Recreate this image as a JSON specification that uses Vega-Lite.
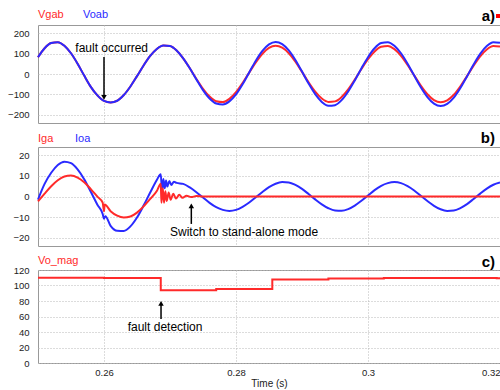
{
  "$schema": "https://vega.github.io/schema/vega-lite/v6.json",
  "padding": {"left": 7, "top": 8, "right": 0, "bottom": 0},
  "background": "white",
  "bounds": "flush",
  "spacing": 24,
  "config": {
    "font": "Liberation Sans",
    "view": {"stroke": "#999999", "strokeWidth": 1},
    "axis": {"domain": false, "ticks": false, "grid": true, "gridColor": "#b8b8b8", "gridDash": [1, 2], "gridWidth": 1, "labelFont": "Liberation Sans", "labelFontSize": 9.5, "labelColor": "#222222", "labelPadding": 9, "labelOverlap": false},
    "line": {"strokeWidth": 2}
  },
  "datasets": {
    "one": [{}],
    "voab": [
      {"t": 0.250, "v": 82}, {"t": 0.251, "v": 126}, {"t": 0.252, "v": 151.5}, {"t": 0.253, "v": 156}, {"t": 0.254, "v": 138.5},
      {"t": 0.255, "v": 101.6}, {"t": 0.256, "v": 50.4}, {"t": 0.257, "v": -7.9}, {"t": 0.258, "v": -62.9}, {"t": 0.259, "v": -105},
      {"t": 0.260, "v": -132}, {"t": 0.261, "v": -139}, {"t": 0.262, "v": -131}, {"t": 0.263, "v": -103}, {"t": 0.264, "v": -61},
      {"t": 0.265, "v": -10.5}, {"t": 0.266, "v": 42}, {"t": 0.267, "v": 88.5}, {"t": 0.268, "v": 122.7}, {"t": 0.269, "v": 139.6},
      {"t": 0.270, "v": 137.1}, {"t": 0.271, "v": 115.1}, {"t": 0.272, "v": 77}, {"t": 0.273, "v": 28.2}, {"t": 0.274, "v": -26.3},
      {"t": 0.275, "v": -78.8}, {"t": 0.276, "v": -120.3}, {"t": 0.277, "v": -144.8}, {"t": 0.278, "v": -149.1}, {"t": 0.279, "v": -134.1},
      {"t": 0.280, "v": -100.3}, {"t": 0.281, "v": -50.4}, {"t": 0.282, "v": 7.9}, {"t": 0.283, "v": 65}, {"t": 0.284, "v": 113},
      {"t": 0.285, "v": 145.2}, {"t": 0.286, "v": 157}, {"t": 0.287, "v": 146.6}, {"t": 0.288, "v": 115.9}, {"t": 0.289, "v": 68.6},
      {"t": 0.290, "v": 11.8}, {"t": 0.291, "v": -46.6}, {"t": 0.292, "v": -98.6}, {"t": 0.293, "v": -136.6}, {"t": 0.294, "v": -155.4},
      {"t": 0.295, "v": -152.6}, {"t": 0.296, "v": -128.1}, {"t": 0.297, "v": -85.7}, {"t": 0.298, "v": -31.4}, {"t": 0.299, "v": 27.5},
      {"t": 0.300, "v": 82.4}, {"t": 0.301, "v": 125.9}, {"t": 0.302, "v": 151.5}, {"t": 0.303, "v": 156.1}, {"t": 0.304, "v": 138.5},
      {"t": 0.305, "v": 101.6}, {"t": 0.306, "v": 50.4}, {"t": 0.307, "v": -7.9}, {"t": 0.308, "v": -65}, {"t": 0.309, "v": -113},
      {"t": 0.310, "v": -145.2}, {"t": 0.311, "v": -157}, {"t": 0.312, "v": -146.6}, {"t": 0.313, "v": -115.9}, {"t": 0.314, "v": -68.6},
      {"t": 0.315, "v": -11.8}, {"t": 0.316, "v": 46.6}, {"t": 0.317, "v": 98.6}, {"t": 0.318, "v": 136.6}, {"t": 0.319, "v": 155.4},
      {"t": 0.320, "v": 152.6}
    ],
    "vgab": [
      {"t": 0.250, "v": 82}, {"t": 0.251, "v": 126}, {"t": 0.252, "v": 151.5}, {"t": 0.253, "v": 156}, {"t": 0.254, "v": 138.5},
      {"t": 0.255, "v": 101.6}, {"t": 0.256, "v": 50.4}, {"t": 0.257, "v": -7.9}, {"t": 0.258, "v": -62.9}, {"t": 0.259, "v": -105},
      {"t": 0.260, "v": -132}, {"t": 0.261, "v": -139}, {"t": 0.262, "v": -131}, {"t": 0.263, "v": -103}, {"t": 0.264, "v": -61},
      {"t": 0.265, "v": -10.5}, {"t": 0.266, "v": 42}, {"t": 0.267, "v": 88.5}, {"t": 0.268, "v": 122.7}, {"t": 0.269, "v": 139.6},
      {"t": 0.270, "v": 137.1}, {"t": 0.271, "v": 115.1}, {"t": 0.272, "v": 77}, {"t": 0.273, "v": 28.2}, {"t": 0.274, "v": -24.2},
      {"t": 0.275, "v": -72.5}, {"t": 0.276, "v": -110.7}, {"t": 0.277, "v": -133.2}, {"t": 0.278, "v": -137.2}, {"t": 0.279, "v": -121.7},
      {"t": 0.280, "v": -89.3}, {"t": 0.281, "v": -44.3}, {"t": 0.282, "v": 6.9}, {"t": 0.283, "v": 57.1}, {"t": 0.284, "v": 99.4},
      {"t": 0.285, "v": 127.7}, {"t": 0.286, "v": 138}, {"t": 0.287, "v": 128.9}, {"t": 0.288, "v": 101.8}, {"t": 0.289, "v": 60.3},
      {"t": 0.290, "v": 10.4}, {"t": 0.291, "v": -41}, {"t": 0.292, "v": -86.7}, {"t": 0.293, "v": -120.1}, {"t": 0.294, "v": -136.6},
      {"t": 0.295, "v": -134.1}, {"t": 0.296, "v": -112.6}, {"t": 0.297, "v": -75.3}, {"t": 0.298, "v": -27.6}, {"t": 0.299, "v": 24.2},
      {"t": 0.300, "v": 72.5}, {"t": 0.301, "v": 110.7}, {"t": 0.302, "v": 133.2}, {"t": 0.303, "v": 137.2}, {"t": 0.304, "v": 121.7},
      {"t": 0.305, "v": 89.3}, {"t": 0.306, "v": 44.3}, {"t": 0.307, "v": -6.9}, {"t": 0.308, "v": -57.1}, {"t": 0.309, "v": -99.4},
      {"t": 0.310, "v": -127.7}, {"t": 0.311, "v": -138}, {"t": 0.312, "v": -128.9}, {"t": 0.313, "v": -101.8}, {"t": 0.314, "v": -60.3},
      {"t": 0.315, "v": -10.4}, {"t": 0.316, "v": 41}, {"t": 0.317, "v": 86.7}, {"t": 0.318, "v": 120.1}, {"t": 0.319, "v": 136.6},
      {"t": 0.320, "v": 134.1}
    ],
    "ioa": [
      {"t": 0.250, "v": -1.5}, {"t": 0.251, "v": 6.1}, {"t": 0.252, "v": 11.5}, {"t": 0.253, "v": 15.3}, {"t": 0.254, "v": 16.9},
      {"t": 0.255, "v": 16.2}, {"t": 0.256, "v": 13.2}, {"t": 0.257, "v": 8.4}, {"t": 0.258, "v": 2.3}, {"t": 0.259, "v": -4.0},
      {"t": 0.2598, "v": -8.5}, {"t": 0.2600, "v": -10.8}, {"t": 0.2602, "v": -9.6}, {"t": 0.261, "v": -14.2}, {"t": 0.262, "v": -16.6},
      {"t": 0.263, "v": -16.7}, {"t": 0.264, "v": -14.5}, {"t": 0.265, "v": -10.2}, {"t": 0.266, "v": -4.4}, {"t": 0.267, "v": 1.9},
      {"t": 0.268, "v": 8.0}, {"t": 0.2686, "v": 10.8}, {"t": 0.2688, "v": 2.5}, {"t": 0.2690, "v": 8.5}, {"t": 0.2692, "v": 4},
      {"t": 0.2694, "v": 7.8}, {"t": 0.2696, "v": 4.8}, {"t": 0.2699, "v": 7.5}, {"t": 0.2702, "v": 5.6}, {"t": 0.2706, "v": 7.2},
      {"t": 0.271, "v": 6.6}, {"t": 0.272, "v": 6.1}, {"t": 0.273, "v": 4.4}, {"t": 0.274, "v": 2.1}, {"t": 0.275, "v": -0.5},
      {"t": 0.276, "v": -3.1}, {"t": 0.277, "v": -5.2}, {"t": 0.278, "v": -6.5}, {"t": 0.279, "v": -7}, {"t": 0.280, "v": -6.5},
      {"t": 0.281, "v": -5.0}, {"t": 0.282, "v": -2.9}, {"t": 0.283, "v": -0.35}, {"t": 0.284, "v": 2.2}, {"t": 0.285, "v": 4.5},
      {"t": 0.286, "v": 6.2}, {"t": 0.287, "v": 7.0}, {"t": 0.288, "v": 6.8}, {"t": 0.289, "v": 5.6}, {"t": 0.290, "v": 3.7},
      {"t": 0.291, "v": 1.2}, {"t": 0.292, "v": -1.4}, {"t": 0.293, "v": -3.8}, {"t": 0.294, "v": -5.7}, {"t": 0.295, "v": -6.8},
      {"t": 0.296, "v": -6.9}, {"t": 0.297, "v": -6.1}, {"t": 0.298, "v": -4.4}, {"t": 0.299, "v": -2.1}, {"t": 0.300, "v": 0.5},
      {"t": 0.301, "v": 3.1}, {"t": 0.302, "v": 5.2}, {"t": 0.303, "v": 6.5}, {"t": 0.304, "v": 7}, {"t": 0.305, "v": 6.5},
      {"t": 0.306, "v": 5.0}, {"t": 0.307, "v": 2.9}, {"t": 0.308, "v": 0.35}, {"t": 0.309, "v": -2.2}, {"t": 0.310, "v": -4.5},
      {"t": 0.311, "v": -6.2}, {"t": 0.312, "v": -7.0}, {"t": 0.313, "v": -6.8}, {"t": 0.314, "v": -5.6}, {"t": 0.315, "v": -3.7},
      {"t": 0.316, "v": -1.2}, {"t": 0.317, "v": 1.4}, {"t": 0.318, "v": 3.8}, {"t": 0.319, "v": 5.7}, {"t": 0.320, "v": 6.8}
    ],
    "iga": [
      {"t": 0.250, "v": -2.4}, {"t": 0.251, "v": 1.4}, {"t": 0.252, "v": 5.0}, {"t": 0.253, "v": 7.9}, {"t": 0.254, "v": 9.7},
      {"t": 0.255, "v": 10.2}, {"t": 0.256, "v": 9.2}, {"t": 0.257, "v": 6.9}, {"t": 0.258, "v": 3.6}, {"t": 0.259, "v": -0.1},
      {"t": 0.2598, "v": -3.0}, {"t": 0.2600, "v": -7.2}, {"t": 0.2601, "v": -3.9}, {"t": 0.261, "v": -7.1}, {"t": 0.262, "v": -9.3},
      {"t": 0.263, "v": -10.2}, {"t": 0.264, "v": -9.7}, {"t": 0.265, "v": -7.8}, {"t": 0.266, "v": -4.8}, {"t": 0.267, "v": -1.2},
      {"t": 0.268, "v": 2.7}, {"t": 0.2686, "v": 6.2}, {"t": 0.2687, "v": -3}, {"t": 0.2689, "v": 4}, {"t": 0.2691, "v": -3},
      {"t": 0.2693, "v": 2.5}, {"t": 0.2695, "v": -2.2}, {"t": 0.2698, "v": 2}, {"t": 0.2701, "v": -1.6}, {"t": 0.2705, "v": 1.3},
      {"t": 0.2709, "v": -1}, {"t": 0.2714, "v": 0.8}, {"t": 0.2719, "v": -0.6}, {"t": 0.2725, "v": 0.4}, {"t": 0.2732, "v": -0.3},
      {"t": 0.274, "v": 0.2}, {"t": 0.275, "v": 0}, {"t": 0.320, "v": 0}
    ],
    "vomag": [
      {"t": 0.250, "v": 110}, {"t": 0.260, "v": 109.6}, {"t": 0.2686, "v": 94}, {"t": 0.277, "v": 95.6},
      {"t": 0.2855, "v": 107.6}, {"t": 0.294, "v": 109}, {"t": 0.3024, "v": 109.8}, {"t": 0.3195, "v": 109.4}, {"t": 0.320, "v": 109.4}
    ]
  },
  "vconcat": [
    {
      "width": 462,
      "height": 98,
      "layer": [
        {
          "data": {"name": "vgab"},
          "mark": {"type": "line", "interpolate": "monotone", "color": "#ff2a2a"},
          "encoding": {
            "x": {"field": "t", "type": "quantitative", "scale": {"domain": [0.25, 0.32], "nice": false, "zero": false}, "axis": {"values": [0.26, 0.28, 0.3, 0.32], "labels": false}, "title": null},
            "y": {"field": "v", "type": "quantitative", "scale": {"domain": [-240, 240], "nice": false}, "axis": {"values": [-200, -100, 0, 100, 200]}, "title": null}
          }
        },
        {
          "data": {"name": "voab"},
          "mark": {"type": "line", "interpolate": "monotone", "color": "#2a2aff"},
          "encoding": {
            "x": {"field": "t", "type": "quantitative", "scale": {"domain": [0.25, 0.32], "nice": false, "zero": false}, "axis": {"values": [0.26, 0.28, 0.3, 0.32], "labels": false}, "title": null},
            "y": {"field": "v", "type": "quantitative", "scale": {"domain": [-240, 240], "nice": false}, "axis": {"values": [-200, -100, 0, 100, 200]}, "title": null}
          }
        },
        {
          "data": {"name": "one"},
          "mark": {"type": "rule", "color": "#000000", "strokeWidth": 1.5},
          "encoding": {
            "x": {"datum": 0.26, "type": "quantitative", "axis": {"values": [0.26, 0.28, 0.3, 0.32], "labels": false}, "title": null},
            "y": {"datum": 83, "type": "quantitative", "axis": {"values": [-200, -100, 0, 100, 200]}, "title": null},
            "y2": {"datum": -108}
          }
        },
        {
          "data": {"name": "one"},
          "mark": {"type": "point", "shape": "triangle-down", "filled": true, "color": "#000000", "size": 30, "opacity": 1},
          "encoding": {
            "x": {"datum": 0.26, "type": "quantitative", "axis": {"values": [0.26, 0.28, 0.3, 0.32], "labels": false}, "title": null},
            "y": {"datum": -115, "type": "quantitative", "axis": {"values": [-200, -100, 0, 100, 200]}, "title": null}
          }
        },
        {
          "data": {"name": "one"},
          "mark": {"type": "text", "fontSize": 12, "align": "center", "baseline": "middle", "color": "#000000"},
          "encoding": {
            "x": {"datum": 0.26116, "type": "quantitative", "axis": {"values": [0.26, 0.28, 0.3, 0.32], "labels": false}, "title": null},
            "y": {"datum": 127, "type": "quantitative", "axis": {"values": [-200, -100, 0, 100, 200]}, "title": null},
            "text": {"value": "fault occurred"}
          }
        },
        {
          "data": {"name": "one"},
          "mark": {"type": "text", "fontSize": 11, "align": "left", "baseline": "middle", "color": "#ff2a2a"},
          "encoding": {
            "x": {"datum": 0.25, "type": "quantitative", "axis": {"values": [0.26, 0.28, 0.3, 0.32], "labels": false}, "title": null},
            "y": {"datum": 289, "type": "quantitative", "axis": {"values": [-200, -100, 0, 100, 200]}, "title": null},
            "text": {"value": "Vgab"}
          }
        },
        {
          "data": {"name": "one"},
          "mark": {"type": "text", "fontSize": 11, "align": "left", "baseline": "middle", "color": "#2a2aff"},
          "encoding": {
            "x": {"datum": 0.25682, "type": "quantitative", "axis": {"values": [0.26, 0.28, 0.3, 0.32], "labels": false}, "title": null},
            "y": {"datum": 289, "type": "quantitative", "axis": {"values": [-200, -100, 0, 100, 200]}, "title": null},
            "text": {"value": "Voab"}
          }
        },
        {
          "data": {"name": "one"},
          "mark": {"type": "text", "fontSize": 15, "fontWeight": "bold", "align": "right", "baseline": "middle", "color": "#000000"},
          "encoding": {
            "x": {"datum": 0.31924, "type": "quantitative", "axis": {"values": [0.26, 0.28, 0.3, 0.32], "labels": false}, "title": null},
            "y": {"datum": 284, "type": "quantitative", "axis": {"values": [-200, -100, 0, 100, 200]}, "title": null},
            "text": {"value": "a)"}
          }
        },
        {
          "data": {"name": "one"},
          "mark": {"type": "square", "filled": true, "color": "#ff0000", "size": 16, "opacity": 1},
          "encoding": {
            "x": {"datum": 0.3197, "type": "quantitative", "axis": {"values": [0.26, 0.28, 0.3, 0.32], "labels": false}, "title": null},
            "y": {"datum": 284, "type": "quantitative", "axis": {"values": [-200, -100, 0, 100, 200]}, "title": null}
          }
        }
      ]
    },
    {
      "width": 462,
      "height": 99,
      "layer": [
        {
          "data": {"name": "ioa"},
          "mark": {"type": "line", "interpolate": "monotone", "color": "#2a2aff"},
          "encoding": {
            "x": {"field": "t", "type": "quantitative", "scale": {"domain": [0.25, 0.32], "nice": false, "zero": false}, "axis": {"values": [0.26, 0.28, 0.3, 0.32], "labels": false}, "title": null},
            "y": {"field": "v", "type": "quantitative", "scale": {"domain": [-24, 24], "nice": false}, "axis": {"values": [-20, -10, 0, 10, 20]}, "title": null}
          }
        },
        {
          "data": {"name": "iga"},
          "mark": {"type": "line", "interpolate": "monotone", "color": "#ff2a2a"},
          "encoding": {
            "x": {"field": "t", "type": "quantitative", "scale": {"domain": [0.25, 0.32], "nice": false, "zero": false}, "axis": {"values": [0.26, 0.28, 0.3, 0.32], "labels": false}, "title": null},
            "y": {"field": "v", "type": "quantitative", "scale": {"domain": [-24, 24], "nice": false}, "axis": {"values": [-20, -10, 0, 10, 20]}, "title": null}
          }
        },
        {
          "data": {"name": "one"},
          "mark": {"type": "rule", "color": "#000000", "strokeWidth": 1.5},
          "encoding": {
            "x": {"datum": 0.27323, "type": "quantitative", "axis": {"values": [0.26, 0.28, 0.3, 0.32], "labels": false}, "title": null},
            "y": {"datum": -13.3, "type": "quantitative", "axis": {"values": [-20, -10, 0, 10, 20]}, "title": null},
            "y2": {"datum": -5.5}
          }
        },
        {
          "data": {"name": "one"},
          "mark": {"type": "point", "shape": "triangle-up", "filled": true, "color": "#000000", "size": 30, "opacity": 1},
          "encoding": {
            "x": {"datum": 0.27323, "type": "quantitative", "axis": {"values": [0.26, 0.28, 0.3, 0.32], "labels": false}, "title": null},
            "y": {"datum": -4.6, "type": "quantitative", "axis": {"values": [-20, -10, 0, 10, 20]}, "title": null}
          }
        },
        {
          "data": {"name": "one"},
          "mark": {"type": "text", "fontSize": 12, "align": "left", "baseline": "middle", "color": "#000000"},
          "encoding": {
            "x": {"datum": 0.27, "type": "quantitative", "axis": {"values": [0.26, 0.28, 0.3, 0.32], "labels": false}, "title": null},
            "y": {"datum": -17.2, "type": "quantitative", "axis": {"values": [-20, -10, 0, 10, 20]}, "title": null},
            "text": {"value": "Switch to stand-alone mode"}
          }
        },
        {
          "data": {"name": "one"},
          "mark": {"type": "text", "fontSize": 11, "align": "left", "baseline": "middle", "color": "#ff2a2a"},
          "encoding": {
            "x": {"datum": 0.25, "type": "quantitative", "axis": {"values": [0.26, 0.28, 0.3, 0.32], "labels": false}, "title": null},
            "y": {"datum": 28, "type": "quantitative", "axis": {"values": [-20, -10, 0, 10, 20]}, "title": null},
            "text": {"value": "Iga"}
          }
        },
        {
          "data": {"name": "one"},
          "mark": {"type": "text", "fontSize": 11, "align": "left", "baseline": "middle", "color": "#2a2aff"},
          "encoding": {
            "x": {"datum": 0.25561, "type": "quantitative", "axis": {"values": [0.26, 0.28, 0.3, 0.32], "labels": false}, "title": null},
            "y": {"datum": 28, "type": "quantitative", "axis": {"values": [-20, -10, 0, 10, 20]}, "title": null},
            "text": {"value": "Ioa"}
          }
        },
        {
          "data": {"name": "one"},
          "mark": {"type": "text", "fontSize": 15, "fontWeight": "bold", "align": "right", "baseline": "middle", "color": "#000000"},
          "encoding": {
            "x": {"datum": 0.31924, "type": "quantitative", "axis": {"values": [0.26, 0.28, 0.3, 0.32], "labels": false}, "title": null},
            "y": {"datum": 28.4, "type": "quantitative", "axis": {"values": [-20, -10, 0, 10, 20]}, "title": null},
            "text": {"value": "b)"}
          }
        }
      ]
    },
    {
      "width": 462,
      "height": 93,
      "layer": [
        {
          "data": {"name": "vomag"},
          "mark": {"type": "line", "interpolate": "step-after", "color": "#ff2a2a"},
          "encoding": {
            "x": {"field": "t", "type": "quantitative", "scale": {"domain": [0.25, 0.32], "nice": false, "zero": false}, "axis": {"values": [0.26, 0.28, 0.3, 0.32], "format": "~g", "labelFlush": true, "labelPadding": 4, "titleFontSize": 10, "titleFontWeight": "normal", "titlePadding": 2, "titleColor": "#222222"}, "title": "Time (s)"},
            "y": {"field": "v", "type": "quantitative", "scale": {"domain": [0, 120], "nice": false}, "axis": {"values": [0, 20, 40, 60, 80, 100, 120]}, "title": null}
          }
        },
        {
          "data": {"name": "one"},
          "mark": {"type": "rule", "color": "#000000", "strokeWidth": 1.5},
          "encoding": {
            "x": {"datum": 0.26864, "type": "quantitative", "axis": {"values": [0.26, 0.28, 0.3, 0.32], "format": "~g", "labelFlush": true, "labelPadding": 4, "titleFontSize": 10, "titleFontWeight": "normal", "titlePadding": 2, "titleColor": "#222222"}, "title": "Time (s)"},
            "y": {"datum": 56.8, "type": "quantitative", "axis": {"values": [0, 20, 40, 60, 80, 100, 120]}, "title": null},
            "y2": {"datum": 75}
          }
        },
        {
          "data": {"name": "one"},
          "mark": {"type": "point", "shape": "triangle-up", "filled": true, "color": "#000000", "size": 30, "opacity": 1},
          "encoding": {
            "x": {"datum": 0.26864, "type": "quantitative", "axis": {"values": [0.26, 0.28, 0.3, 0.32], "format": "~g", "labelFlush": true, "labelPadding": 4, "titleFontSize": 10, "titleFontWeight": "normal", "titlePadding": 2, "titleColor": "#222222"}, "title": "Time (s)"},
            "y": {"datum": 77, "type": "quantitative", "axis": {"values": [0, 20, 40, 60, 80, 100, 120]}, "title": null}
          }
        },
        {
          "data": {"name": "one"},
          "mark": {"type": "text", "fontSize": 12, "align": "center", "baseline": "middle", "color": "#000000"},
          "encoding": {
            "x": {"datum": 0.26925, "type": "quantitative", "axis": {"values": [0.26, 0.28, 0.3, 0.32], "format": "~g", "labelFlush": true, "labelPadding": 4, "titleFontSize": 10, "titleFontWeight": "normal", "titlePadding": 2, "titleColor": "#222222"}, "title": "Time (s)"},
            "y": {"datum": 46.5, "type": "quantitative", "axis": {"values": [0, 20, 40, 60, 80, 100, 120]}, "title": null},
            "text": {"value": "fault detection"}
          }
        },
        {
          "data": {"name": "one"},
          "mark": {"type": "text", "fontSize": 11, "align": "left", "baseline": "middle", "color": "#ff2a2a"},
          "encoding": {
            "x": {"datum": 0.25, "type": "quantitative", "axis": {"values": [0.26, 0.28, 0.3, 0.32], "format": "~g", "labelFlush": true, "labelPadding": 4, "titleFontSize": 10, "titleFontWeight": "normal", "titlePadding": 2, "titleColor": "#222222"}, "title": "Time (s)"},
            "y": {"datum": 131.6, "type": "quantitative", "axis": {"values": [0, 20, 40, 60, 80, 100, 120]}, "title": null},
            "text": {"value": "Vo_mag"}
          }
        },
        {
          "data": {"name": "one"},
          "mark": {"type": "text", "fontSize": 15, "fontWeight": "bold", "align": "right", "baseline": "middle", "color": "#000000"},
          "encoding": {
            "x": {"datum": 0.31924, "type": "quantitative", "axis": {"values": [0.26, 0.28, 0.3, 0.32], "format": "~g", "labelFlush": true, "labelPadding": 4, "titleFontSize": 10, "titleFontWeight": "normal", "titlePadding": 2, "titleColor": "#222222"}, "title": "Time (s)"},
            "y": {"datum": 130, "type": "quantitative", "axis": {"values": [0, 20, 40, 60, 80, 100, 120]}, "title": null},
            "text": {"value": "c)"}
          }
        }
      ]
    }
  ]
}
